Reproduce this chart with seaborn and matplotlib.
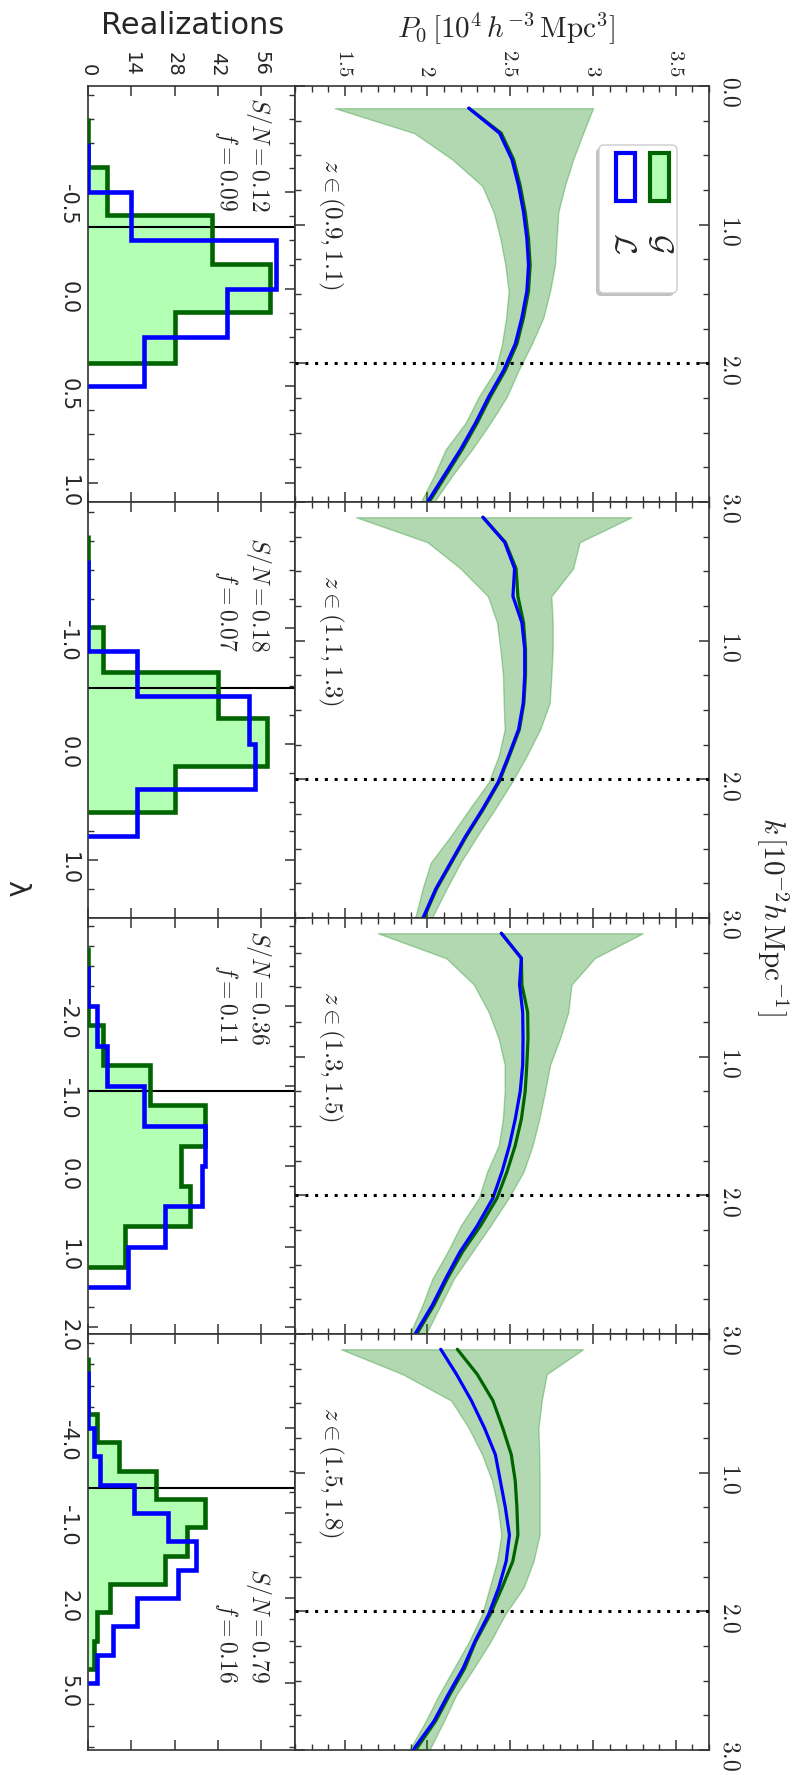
import numpy as np
import pandas as pd
import matplotlib
matplotlib.use("Agg")
import matplotlib.pyplot as plt
import matplotlib.transforms as mtransforms
import seaborn as sns
from matplotlib.ticker import FixedLocator, FixedFormatter, MultipleLocator
from matplotlib.patches import FancyBboxPatch, Rectangle
from matplotlib.transforms import IdentityTransform

sns.set_theme(style="white")
plt.rcParams['font.family'] = ['DejaVu Sans']
plt.rcParams['mathtext.fontset'] = 'cm'
plt.rcParams['axes.edgecolor'] = '#333333'
plt.rcParams['axes.linewidth'] = 1.2

# ---------------- data ----------------
z_labels = [r"$z\in(0.9,1.1)$", r"$z\in(1.1,1.3)$", r"$z\in(1.3,1.5)$", r"$z\in(1.5,1.8)$"]
sn_labels = ["$S/N=0.12$\n$f=0.09$", "$S/N=0.18$\n$f=0.07$",
             "$S/N=0.36$\n$f=0.11$", "$S/N=0.79$\n$f=0.16$"]

k_first = [0.16, 0.34, 0.53, 0.72, 0.91, 1.10, 1.29, 1.48, 1.67, 1.86, 2.05, 2.24, 2.43, 2.62, 2.81, 3.00, 3.19]
k_rest = [0.11, 0.29, 0.48, 0.68, 0.87, 1.06, 1.25, 1.45, 1.64, 1.83, 2.02, 2.22, 2.41, 2.60, 2.79, 2.98, 3.17]

blue1 = [2.25, 2.435, 2.51, 2.55, 2.58, 2.60, 2.61, 2.60, 2.57, 2.53, 2.46, 2.37, 2.29, 2.20, 2.10, 2.00, 1.91]
green1 = [2.25, 2.445, 2.52, 2.56, 2.59, 2.61, 2.62, 2.61, 2.58, 2.54, 2.47, 2.38, 2.30, 2.21, 2.11, 2.01, 1.92]
lo1 = [1.44, 1.92, 2.15, 2.33, 2.40, 2.44, 2.47, 2.49, 2.475, 2.45, 2.41, 2.31, 2.23, 2.11, 2.04, 1.96, 1.88]
hi1 = [3.00, 2.94, 2.88, 2.83, 2.79, 2.78, 2.77, 2.74, 2.70, 2.63, 2.55, 2.48, 2.38, 2.27, 2.15, 2.04, 1.96]

blue2 = [2.335, 2.466, 2.526, 2.516, 2.57, 2.587, 2.587, 2.578, 2.55, 2.49, 2.427, 2.33, 2.23, 2.14, 2.05, 1.98, 1.90]
green2 = [2.335, 2.47, 2.535, 2.546, 2.58, 2.592, 2.592, 2.582, 2.555, 2.495, 2.432, 2.335, 2.235, 2.145, 2.055, 1.985, 1.905]
lo2 = [1.569, 2.0, 2.2, 2.365, 2.42, 2.44, 2.456, 2.46, 2.466, 2.43, 2.37, 2.25, 2.14, 2.02, 1.97, 1.93, 1.85]
hi2 = [3.232, 2.919, 2.879, 2.748, 2.756, 2.756, 2.748, 2.738, 2.68, 2.60, 2.51, 2.405, 2.30, 2.20, 2.115, 2.035, 1.96]

blue3 = [2.446, 2.567, 2.556, 2.575, 2.577, 2.575, 2.56, 2.53, 2.495, 2.45, 2.395, 2.30, 2.195, 2.11, 2.03, 1.935, 1.85]
green3 = [2.446, 2.567, 2.57, 2.605, 2.607, 2.60, 2.59, 2.567, 2.53, 2.48, 2.42, 2.32, 2.21, 2.12, 2.04, 1.945, 1.86]
lo3 = [1.70, 2.113, 2.28, 2.37, 2.43, 2.466, 2.466, 2.455, 2.43, 2.36, 2.31, 2.20, 2.12, 2.03, 1.97, 1.90, 1.82]
hi3 = [3.30, 3.01, 2.87, 2.85, 2.80, 2.74, 2.71, 2.675, 2.635, 2.58, 2.49, 2.38, 2.27, 2.16, 2.08, 2.00, 1.92]

blue4 = [2.08, 2.175, 2.265, 2.345, 2.41, 2.44, 2.47, 2.495, 2.475, 2.43, 2.37, 2.285, 2.215, 2.125, 2.04, 1.925, 1.84]
green4 = [2.18, 2.30, 2.395, 2.455, 2.506, 2.53, 2.54, 2.546, 2.515, 2.45, 2.38, 2.29, 2.225, 2.135, 2.05, 1.94, 1.855]
lo4 = [1.478, 1.85, 2.143, 2.25, 2.33, 2.39, 2.425, 2.446, 2.42, 2.375, 2.33, 2.25, 2.16, 2.07, 1.99, 1.90, 1.82]
hi4 = [2.94, 2.72, 2.69, 2.67, 2.675, 2.677, 2.677, 2.677, 2.64, 2.58, 2.47, 2.38, 2.28, 2.175, 2.10, 2.02, 1.94]

k_cut = 2.0

# histograms of lambda (realizations per bin)
g_edges1 = [-0.88, -0.63, -0.38, -0.13, 0.12, 0.38]
g_counts1 = [0, 6, 40, 59, 28]
b_edges1 = [-0.75, -0.50, -0.25, 0.00, 0.25, 0.50]
b_counts1 = [0, 14, 61, 45, 18]

g_edges2 = [-1.80, -1.41, -1.01, -0.62, -0.22, 0.19, 0.59]
g_counts2 = [0, 0, 5, 42, 58, 28]
b_edges2 = [-1.59, -1.20, -0.80, -0.41, 0.00, 0.39, 0.79]
b_counts2 = [0, 0, 16, 52, 54, 16]

g_edges3 = [-2.74, -2.25, -1.76, -1.26, -0.76, -0.25, 0.25, 0.74, 1.25]
g_counts3 = [0, 0, 5, 20, 38, 30, 33, 12]
b_edges3 = [-2.5, -2.0, -1.5, -1.0, -0.5, 0.0, 0.5, 1.0, 1.5]
b_counts3 = [0, 3, 6, 18, 38, 37, 25, 13]

g_edges4 = [-6.5, -5.5, -4.5, -3.5, -2.5, -1.5, -0.5, 0.5, 1.5, 2.5, 3.5, 4.5]
g_counts4 = [0, 0, 3, 10, 22, 38, 32, 25, 7, 3, 2]
b_edges4 = [-6, -5, -4, -3, -2, -1, 0, 1, 2, 3, 4, 5]
b_counts4 = [0, 0, 2, 4, 15, 26, 35, 29, 16, 8, 3]

lambda_true = [-0.32, -0.48, -0.94, -1.88]

p0_ticks = [1.5, 2.0, 2.5, 3.0, 3.5]
p0_ticklabels = ["$1.5$", "$2$", "$2.5$", "$3$", "$3.5$"]
k_ticks = [0.0, 1.0, 2.0, 3.0]
k_ticklabels = ["$0.0$", "$1.0$", "$2.0$", "$3.0$"]
count_ticks = [0, 14, 28, 42, 56]
count_ticklabels = ["0", "14", "28", "42", "56"]
lam_ticks = [[-0.5, 0.0, 0.5, 1.0], [-1.0, 0.0, 1.0], [-2.0, -1.0, 0.0, 1.0, 2.0], [-4.0, -1.0, 2.0, 5.0]]
lam_ticklabels = [["-0.5", "0.0", "0.5", "1.0"], ["-1.0", "0.0", "1.0"],
                  ["-2.0", "-1.0", "0.0", "1.0", "2.0"], ["-4.0", "-1.0", "2.0", "5.0"]]
lam_minor = [0.125, 0.25, 0.25, 0.75]
lam_lims = [(-1.046, 1.098), (-2.086, 1.50), (-3.096, 2.09), (-7.32, 7.36)]

k_grids = [k_first, k_rest, k_rest, k_rest]
blues = [blue1, blue2, blue3, blue4]
greens = [green1, green2, green3, green4]
los = [lo1, lo2, lo3, lo4]
his = [hi1, hi2, hi3, hi4]
g_edges = [g_edges1, g_edges2, g_edges3, g_edges4]
g_counts = [g_counts1, g_counts2, g_counts3, g_counts4]
b_edges = [b_edges1, b_edges2, b_edges3, b_edges4]
b_counts = [b_counts1, b_counts2, b_counts3, b_counts4]

# ---------------- layout ----------------
W, H = 804, 1775
fig = plt.figure(figsize=(W / 100, H / 100), dpi=100)
fig.patch.set_facecolor("white")


def rect(x0, y0, x1, y1):
    return [x0 / W, 1 - y1 / H, (x1 - x0) / W, (y1 - y0) / H]


tops = [86, 502, 918, 1334]
ph = 416
spine_col = "#333333"
hist_face = (0.70, 1.0, 0.70)

for i in range(4):
    axh = fig.add_axes(rect(88, tops[i], 295, tops[i] + ph))
    axp = fig.add_axes(rect(295, tops[i], 709, tops[i] + ph))

    # ---- power spectrum panel (P0 horizontal, k vertical) ----
    k = k_grids[i]
    axp.fill_betweenx(k, los[i], his[i], color="green", alpha=0.3, lw=1, zorder=1)
    sns.lineplot(x=greens[i], y=k, orient="y", estimator=None, color="darkgreen",
                 lw=2.3, ax=axp, zorder=3)
    sns.lineplot(x=blues[i], y=k, orient="y", estimator=None, color="blue",
                 lw=2.3, ax=axp, zorder=4)
    axp.axhline(k_cut, color="black", ls=(0, (1, 2.2)), lw=2.2, zorder=5)
    axp.set_xlim(1.2, 3.7)
    axp.set_ylim(3.0, 0.0)
    axp.set_xlabel("")
    axp.set_ylabel("")
    axp.xaxis.set_major_locator(FixedLocator(p0_ticks))
    axp.xaxis.set_major_formatter(FixedFormatter(p0_ticklabels))
    axp.xaxis.set_minor_locator(MultipleLocator(0.1))
    axp.yaxis.set_major_locator(FixedLocator(k_ticks))
    labs = list(k_ticklabels)
    if i > 0:
        labs[0] = ""
    axp.yaxis.set_major_formatter(FixedFormatter(labs))
    axp.yaxis.set_minor_locator(MultipleLocator(0.25))
    axp.tick_params(which="both", direction="in", top=True, bottom=True, left=True, right=True,
                    labelbottom=False, labeltop=(i == 0), labelleft=False, labelright=True,
                    color=spine_col)
    axp.tick_params(which="major", length=7, width=1.1)
    axp.tick_params(which="minor", length=4, width=1.0)
    axp.tick_params(axis="x", labelrotation=-90, labelsize=15, pad=7)
    axp.tick_params(axis="y", labelrotation=-90, labelsize=17, pad=7)
    tr = mtransforms.blended_transform_factory(axp.transAxes, axp.transData)
    axp.text(0.085, 1.0, z_labels[i], transform=tr, rotation=-90, ha="center", va="center",
             fontsize=18)

    # ---- histogram panel (counts horizontal, lambda vertical) ----
    ge = np.array(g_edges[i], dtype=float)
    be = np.array(b_edges[i], dtype=float)
    gdf = pd.DataFrame({"lam": 0.5 * (ge[:-1] + ge[1:]), "n": np.array(g_counts[i], dtype=float)})
    sns.histplot(data=gdf, y="lam", weights="n", bins=list(ge), element="step",
                 fill=True, facecolor=hist_face, edgecolor="none", linewidth=0,
                 ax=axh, zorder=1)
    axh.axhline(lambda_true[i], color="black", lw=1.5, zorder=2)
    axh.stairs(g_counts[i], ge, orientation="horizontal", color="darkgreen", lw=3.3, zorder=3)
    axh.stairs(b_counts[i], be, orientation="horizontal", color="blue", lw=3.3, zorder=4)
    axh.set_xlim(0, 67)
    axh.set_ylim(lam_lims[i][1], lam_lims[i][0])
    axh.set_xlabel("")
    axh.set_ylabel("")
    axh.xaxis.set_major_locator(FixedLocator(count_ticks))
    axh.xaxis.set_major_formatter(FixedFormatter(count_ticklabels))
    axh.yaxis.set_major_locator(FixedLocator(lam_ticks[i]))
    axh.yaxis.set_major_formatter(FixedFormatter(lam_ticklabels[i]))
    t0 = lam_ticks[i][0]
    st = lam_minor[i]
    lo_l, hi_l = lam_lims[i]
    n0 = int(np.floor((lo_l - t0) / st))
    n1 = int(np.ceil((hi_l - t0) / st))
    axh.yaxis.set_minor_locator(FixedLocator([t0 + n * st for n in range(n0, n1 + 1)]))
    axh.tick_params(which="both", direction="in", top=True, bottom=True, left=True, right=True,
                    labelbottom=False, labeltop=(i == 0), labelleft=True, labelright=False,
                    color=spine_col)
    axh.tick_params(which="major", length=7, width=1.1)
    axh.tick_params(which="minor", length=4, width=1.0)
    axh.tick_params(axis="x", labelrotation=-90, labelsize=14, pad=7)
    axh.tick_params(axis="y", labelrotation=-90, labelsize=15, pad=7)
    if i < 3:
        ys = 1 - ([97, 537, 930][i] - tops[i]) / ph
        axh.text(0.894, ys, sn_labels[i], transform=axh.transAxes, rotation=-90,
                 ha="right", va="top", multialignment="right", fontsize=17)
    else:
        ys = 1 - (1683 - tops[i]) / ph
        axh.text(0.894, ys, sn_labels[i], transform=axh.transAxes, rotation=-90,
                 ha="right", va="bottom", multialignment="right", fontsize=17)

    for a in (axh, axp):
        for s in a.spines.values():
            s.set_color(spine_col)
            s.set_linewidth(1.2)
        a.set_facecolor("white")

# ---------------- legend (drawn rotated) ----------------
pix = IdentityTransform()
fig.add_artist(FancyBboxPatch((596, H - 296), 78, 148, boxstyle="round,pad=0,rounding_size=5",
                              transform=pix, facecolor="#999999", edgecolor="none", alpha=0.6))
fig.add_artist(FancyBboxPatch((599, H - 293), 78, 148, boxstyle="round,pad=0,rounding_size=5",
                              transform=pix, facecolor="white", edgecolor="#cccccc", lw=1))
fig.add_artist(Rectangle((616, H - 201), 19, 48, transform=pix, facecolor="white",
                         edgecolor="blue", lw=3))
fig.add_artist(Rectangle((650, H - 201), 19, 48, transform=pix, facecolor=hist_face,
                         edgecolor="darkgreen", lw=3))
fig.text(624 / W, 1 - 243 / H, r"$\mathcal{L}$", rotation=-90, ha="center", va="center", fontsize=22)
fig.text(661 / W, 1 - 243 / H, r"$\mathcal{G}$", rotation=-90, ha="center", va="center", fontsize=22)

# ---------------- axis titles ----------------
fig.text(193 / W, 1 - 26 / H, "Realizations", ha="center", va="center", fontsize=22)
fig.text(506 / W, 1 - 28 / H, r"$P_0\,[10^4\,h^{-3}\,{\rm Mpc}^3]$", ha="center", va="center",
         fontsize=21)
fig.text(773 / W, 1 - 916 / H, r"$k\,[10^{-2}h\,{\rm Mpc}^{-1}]$", rotation=-90, ha="center",
         va="center", fontsize=21)
fig.text(16 / W, 1 - 888 / H, "λ", rotation=-90, ha="center", va="center", fontsize=20)

fig.savefig("out.png", dpi=100)
